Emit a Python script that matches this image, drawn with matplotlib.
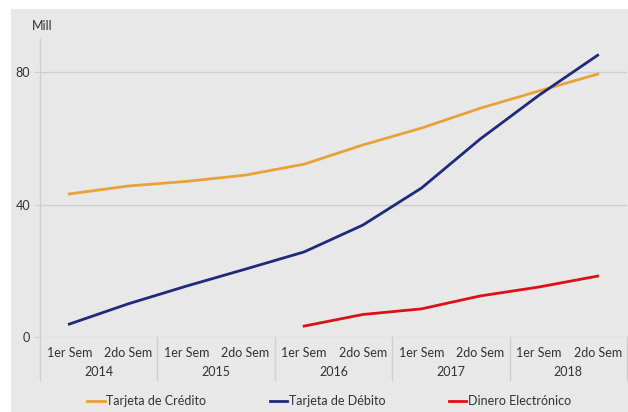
import matplotlib
matplotlib.use("Agg")
import matplotlib.pyplot as plt
from matplotlib.patches import Rectangle
import matplotlib.transforms as mtransforms

plt.rcParams['font.family'] = ['Lato', 'DejaVu Sans']

years = ["2014", "2015", "2016", "2017", "2018"]
sems = ["1er Sem", "2do Sem"]
credito = [43.2, 45.6, 47.0, 48.9, 52.2, 58.0, 63.1, 69.1, 74.3, 79.4]
debito = [3.9, 10.0, 15.4, 20.5, 25.7, 33.8, 45.0, 59.8, 73.0, 85.1]
dinero = [None, None, None, None, 3.3, 6.8, 8.5, 12.4, 15.1, 18.4]
yticks = [0, 40, 80]

W, H = 628, 412
FS = 9
fig = plt.figure(figsize=(W / 100, H / 100), dpi=100)
fig.patch.set_facecolor("white")
fig.patches.append(Rectangle((11 / W, 0), 1 - 11 / W, 1 - 9 / H, transform=fig.transFigure,
                             facecolor="#e8e8e8", edgecolor="none", zorder=-5))

ax = fig.add_axes([40 / W, 1 - 337 / H, (627 - 40) / W, (337 - 39) / H])
ax.set_facecolor("none")
n = len(credito)
x = list(range(n))
ax.set_xlim(-0.5, n - 0.5)
ax.set_ylim(0, 90)

grid_c = "#cfcfcf"
for s in ax.spines.values():
    s.set_visible(False)
ax.axvline(-0.5, color=grid_c, lw=1, clip_on=False)
for yv in yticks:
    ax.axhline(yv, color=grid_c, lw=1, zorder=1)
ax.set_yticks(yticks)
ax.set_yticklabels([str(v) for v in yticks], fontsize=FS, color="#333333")
ax.tick_params(axis="y", length=4, color=grid_c, pad=3)

ax.set_xticks(x)
ax.set_xticklabels(sems * len(years), fontsize=FS, color="#333333")
ax.tick_params(axis="x", length=0, pad=7)

trans = mtransforms.blended_transform_factory(ax.transData, ax.transAxes)
pxh = 1 / (337 - 39)
for i in range(len(years) + 1):
    xb = -0.5 + 2 * i
    ax.plot([xb, xb], [0, -43 * pxh], transform=trans, color=grid_c, lw=1, clip_on=False)
for i, yr in enumerate(years):
    ax.text(2 * i + 0.5, -35 * pxh, yr, transform=trans, ha="center", va="center",
            fontsize=FS, color="#333333")

xs_d = [xi for xi, v in zip(x, dinero) if v is not None]
ys_d = [v for v in dinero if v is not None]
l1, = ax.plot(x, credito, color="#E8A23A", lw=2, label="Tarjeta de Crédito", zorder=3)
l2, = ax.plot(x, debito, color="#1F2A7C", lw=2, label="Tarjeta de Débito", zorder=3)
l3, = ax.plot(xs_d, ys_d, color="#DD1016", lw=2, label="Dinero Electrónico", zorder=3)

fig.text(32 / W, 1 - 26 / H, "Mill", fontsize=FS, color="#333333", va="center")

leg = fig.legend(handles=[l1, l2, l3], loc="center", bbox_to_anchor=(329 / W, 1 - 401 / H),
                 ncol=3, frameon=False, fontsize=FS, handlelength=1.4, handletextpad=0.1,
                 columnspacing=5.1)
for t in leg.get_texts():
    t.set_color("#333333")

fig.savefig("out.png", dpi=100)
